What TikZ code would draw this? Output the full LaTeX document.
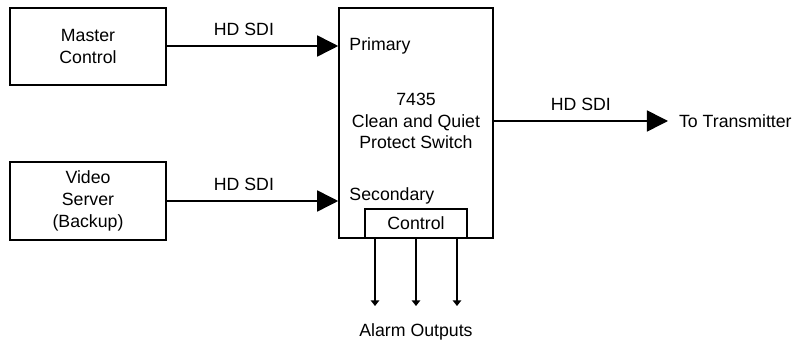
\documentclass[tikz,border=0pt]{standalone}
\usepackage{fontspec}
\setmainfont{Liberation Sans}
\usepackage{tikz}
\usetikzlibrary{arrows.meta,positioning,calc}

\begin{document}
\begin{tikzpicture}[
    unit/.style={rectangle, draw=black, line width=1.1pt, minimum width=3.9cm, minimum height=1.93cm, align=center, font=\fontsize{12.6}{15.4}\selectfont},
    label/.style={font=\fontsize{12.6}{15.4}\selectfont, inner sep=2pt},
    feed/.style={-{Triangle[length=15pt,width=15pt]}, line width=1.1pt},
    alarm/.style={-{Triangle[length=4pt,width=6pt]}, line width=1.1pt}
]
    \useasboundingbox (0,0) rectangle (19.95,8.6);

    % Sources
    \node[unit] (master) at (2.2,7.44) {Master\\Control};
    \node[unit, minimum height=1.95cm] (server) at (2.2,3.575) {Video\\Server\\(Backup)};

    % Protect switch
    \node[unit, minimum width=3.85cm, minimum height=5.75cm] (switch) at (10.4,5.525) {};
    \node[label, align=center] (title) at (10.4,5.575) {7435\\Clean and Quiet\\Protect Switch};
    \node[label, anchor=west] (primary) at (8.66,7.45) {Primary};
    \node[label, anchor=west] (secondary) at (8.66,3.7) {Secondary};
    \node[unit, minimum width=2.55cm, minimum height=0.725cm, anchor=south] (control) at (switch.south) {Control};

    % Outputs
    \node[label, anchor=west] (xmit) at (16.9,5.575) {To Transmitter};
    \node[label] (alarms) at (10.4,0.3) {Alarm Outputs};
    \coordinate (a1) at (9.375,0.95);
    \coordinate (a2) at (10.4,0.95);
    \coordinate (a3) at (11.425,0.95);

    \draw[feed] (master.east |- primary) -- (switch.west |- primary) node[label, pos=0.45, above=5pt] {HD SDI};
    \draw[feed] (server.east) -- (switch.west |- server.east) node[label, pos=0.45, above=5pt] {HD SDI};
    \draw[feed] (switch.east |- xmit) -- ($(xmit.west)+(-0.2,0)$) node[label, midway, above=5pt] {HD SDI};
    \draw[alarm] (control.south -| a1) -- (a1);
    \draw[alarm] (control.south -| a2) -- (a2);
    \draw[alarm] (control.south -| a3) -- (a3);
\end{tikzpicture}
\end{document}
